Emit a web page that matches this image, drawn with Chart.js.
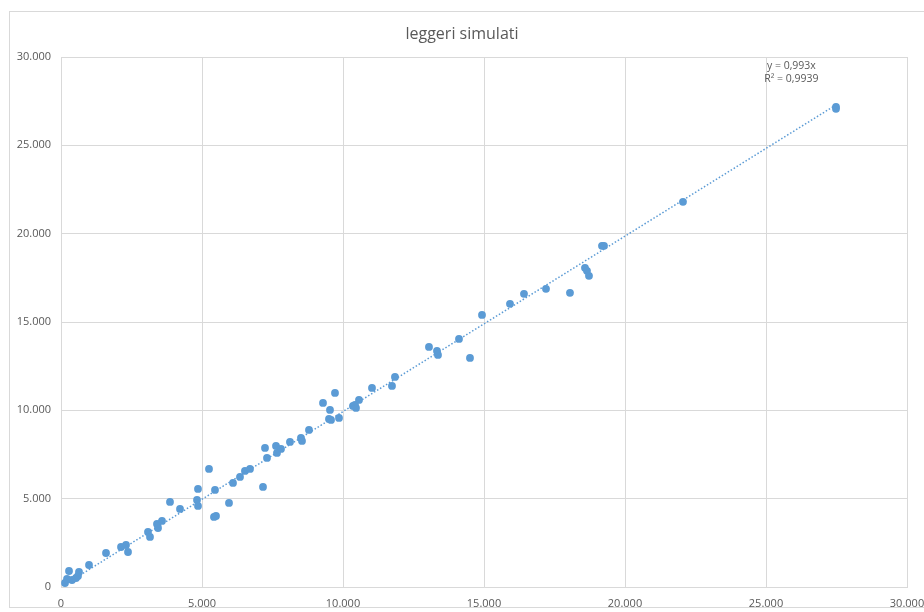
<!DOCTYPE html>
<html>
<head>
<meta charset="utf-8">
<script src="https://cdn.jsdelivr.net/npm/chart.js@4"></script>
<style>
  html, body { margin: 0; padding: 0; background: #fff; }
  #wrap { position: relative; width: 924px; height: 612px; overflow: hidden; }
  #frame { position: absolute; left: 9px; top: 11px; width: 930px; height: 597px; border: 1px solid #d9d9d9; box-sizing: border-box; }
  #chart { position: absolute; left: 0; top: 0; }
</style>
</head>
<body>
<div id="wrap">
  <div id="frame"></div>
  <canvas id="chart" width="924" height="612"></canvas>
</div>
<script>
// valori (asse x, asse y)
const xValues = [142, 213, 284, 390, 532, 603, 638, 993, 1596, 2128, 2305, 2376, 3085, 3156, 3404, 3440, 3581,
  3865, 4220, 4823, 4858, 4858, 5248, 5425, 5496, 5461, 5957, 6099, 6347, 6524, 6702, 7163, 7234, 7305,
  7624, 7659, 7801, 8120, 8510, 8546, 8794, 9291, 9539, 9503, 9575, 9716, 9858, 10354, 10425, 10461,
  10567, 11028, 11737, 11843, 13049, 13333, 13368, 14113, 14503, 14929, 15922, 16418, 17198, 18049,
  18581, 18652, 18723, 19184, 19255, 22056, 27482, 27482];
const yValues = [227, 453, 906, 396, 510, 623, 849, 1246, 1925, 2265, 2378, 1982, 3115, 2832, 3568, 3341, 3738,
  4814, 4417, 4927, 4587, 5550, 6682, 3964, 4021, 5493, 4757, 5890, 6229, 6569, 6682, 5663, 7872, 7305,
  7985, 7588, 7815, 8211, 8438, 8268, 8891, 10420, 10024, 9514, 9457, 10986, 9570, 10250, 10307, 10137,
  10590, 11269, 11383, 11892, 13591, 13365, 13138, 14044, 12968, 15403, 16026, 16593, 16876, 16649,
  18065, 17895, 17612, 19311, 19311, 21803, 27182, 27069];
const axisTicks = [0, 5000, 10000, 15000, 20000, 25000, 30000];
const trendSlope = 0.993;
const trendLabel = ['y = 0,993x', 'R\u00b2 = 0,9939'];
const chartTitle = 'leggeri simulati';

const blue = '#5b9bd5';
const grey = '#595959';
const gridColor = '#d9d9d9';
const fontFamily = '"Open Sans", sans-serif';

function fmt(v) {
  return String(v).replace(/\B(?=(\d{3})+(?!\d))/g, '.');
}

const points = xValues.map((x, i) => ({ x: x, y: yValues[i] }));
const xMin = Math.min(...xValues), xMax = Math.max(...xValues);
const trend = [{ x: xMin, y: xMin * trendSlope }, { x: xMax, y: xMax * trendSlope }];

const trendText = {
  id: 'trendText',
  afterDatasetsDraw(chart) {
    const { ctx, scales } = chart;
    const px = scales.x.getPixelForValue(25900);
    const py = scales.y.getPixelForValue(29500);
    ctx.save();
    ctx.fillStyle = grey;
    ctx.font = '10.5px ' + fontFamily;
    ctx.textAlign = 'center';
    ctx.textBaseline = 'middle';
    ctx.fillText(trendLabel[0], px, py);
    ctx.fillText(trendLabel[1], px, py + 13);
    ctx.restore();
  }
};

new Chart(document.getElementById('chart'), {
  type: 'scatter',
  data: {
    datasets: [
      {
        label: 'trend',
        type: 'line',
        data: trend,
        borderColor: blue,
        borderWidth: 1.5,
        borderDash: [1.5, 2],
        pointRadius: 0,
        fill: false
      },
      {
        label: 'leggeri simulati',
        data: points,
        backgroundColor: blue,
        borderColor: blue,
        pointRadius: 3.9,
        pointBorderWidth: 0
      }
    ]
  },
  options: {
    responsive: false,
    animation: false,
    layout: { padding: 0 },
    plugins: {
      legend: { display: false },
      tooltip: { enabled: false },
      title: {
        display: true,
        text: chartTitle,
        color: grey,
        font: { family: fontFamily, size: 16, weight: 'normal', lineHeight: 1.2 },
        padding: { top: 25, bottom: 12.8 }
      }
    },
    scales: {
      x: {
        type: 'linear',
        min: 0, max: 30000,
        afterBuildTicks: s => { s.ticks = axisTicks.map(v => ({ value: v })); },
        afterFit: s => { s.height = 25; s.paddingRight = 17; s.paddingLeft = 0; },
        grid: { color: gridColor, drawTicks: false },
        border: { color: gridColor },
        ticks: { color: grey, padding: 10, maxRotation: 0, font: { family: fontFamily, size: 11 }, callback: v => fmt(v) }
      },
      y: {
        type: 'linear',
        min: 0, max: 30000,
        afterBuildTicks: s => { s.ticks = axisTicks.map(v => ({ value: v })); },
        afterFit: s => { s.width = 61; },
        grid: { color: gridColor, drawTicks: false },
        border: { color: gridColor },
        ticks: { color: grey, padding: 10, font: { family: fontFamily, size: 11 }, callback: v => fmt(v) }
      }
    }
  },
  plugins: [trendText]
});
</script>
</body>
</html>
